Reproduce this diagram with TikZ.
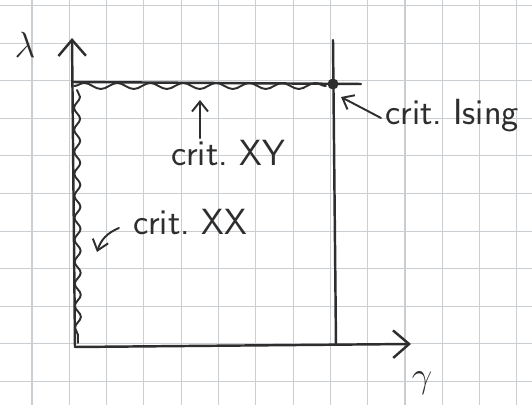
\documentclass[tikz,border=0pt]{standalone}
\usepackage{tikz}
\usetikzlibrary{arrows.meta,decorations.pathmorphing,calc}
\definecolor{gridpaper}{HTML}{C9CED2}
\definecolor{pen}{HTML}{2E2E2E}

\begin{document}
\begin{tikzpicture}[
  x=0.02cm, y=-0.02cm,
  font=\sffamily\huge,
  gridline/.style={draw=gridpaper, line width=0.6pt},
  ink/.style={draw=pen, line width=1.4pt, line cap=round, line join=round},
  axis/.style={ink, -{Straight Barb[length=3.2mm, width=5.5mm, line width=1.4pt]}},
  ptr/.style={ink, line width=1.1pt, -{Straight Barb[length=2mm, width=3.2mm, line width=1.1pt]}},
  wig/.style={ink, line width=1.1pt, decorate,
              decoration={snake, segment length=#1, amplitude=0.06cm}},
  wig/.default=0.66cm,
  lab/.style={text=pen, inner sep=1pt}]
\useasboundingbox (0,0) rectangle (532,405);
% squared paper
\foreach \k in {0,...,13} \draw[gridline] ({32+37.3*\k},0) -- ++(0,405);
\foreach \k in {0,...,10} \draw[gridline] (0,{5.5+37.6*\k}) -- ++(532,0);
% axes
\coordinate (O) at (75,347);
\coordinate (ytop) at (72,38);
\coordinate (xend) at (411,344);
\draw[axis] (O) -- (ytop);
\draw[axis] (O) -- (xend);
\node[lab] (lam) at (25,45) {$\lambda$};
\node[lab] (gam) at (422,383) {$\gamma$};
% critical lines
\draw[ink] (72,82) -- (361,84);
\draw[ink] (333,40) -- (336,345);
\node[circle, fill=pen, inner sep=0pt, minimum size=0.22cm] (ising) at (333,84) {};
\draw[wig] (74,86) -- (326,86);
\draw[wig=0.44cm] (77,90) -- (78,343);
% labels
\node[lab] (isinglab) at (452,116) {crit.\ Ising};
\node[lab] (xylab) at (228,153) {crit.\ XY};
\node[lab] (xxlab) at (190,222) {crit.\ XX};
\coordinate (xytip) at (200,100);
\coordinate (xxtip) at (97,252);
\draw[ptr] ($(isinglab.west)+(-2,2)$) -- ($(ising)+(8,13)$);
\draw[ptr] (xytip |- xylab.north) -- (xytip);
\draw[ptr] ($(xxlab.west)+(-12,6)$) to[bend right=25] (xxtip);
\end{tikzpicture}
\end{document}
